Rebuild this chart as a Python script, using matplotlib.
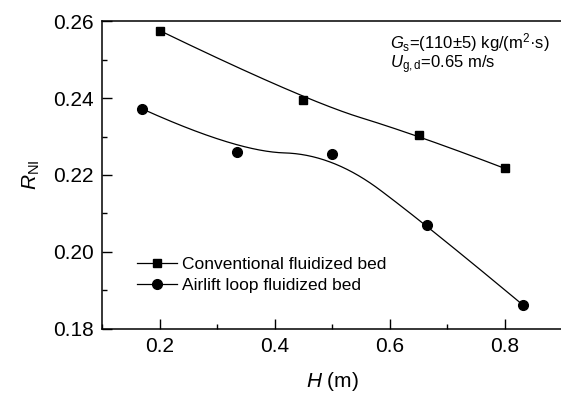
import numpy as np
import matplotlib
matplotlib.use("Agg")
import matplotlib.pyplot as plt
from matplotlib.ticker import MultipleLocator, FormatStrFormatter

# data
h_conv = [0.20, 0.45, 0.65, 0.80]
r_conv = [0.2576, 0.2395, 0.2303, 0.2217]
h_air = [0.17, 0.334, 0.50, 0.665, 0.831]
r_air = [0.2372, 0.2261, 0.2254, 0.2069, 0.1862]

lab_conv = "Conventional fluidized bed"
lab_air = "Airlift loop fluidized bed"


def bspline(x, y, k=2, num=300):
    # clamped B-spline with the data points as control points
    P = np.column_stack([x, y])
    n = len(P)
    knots = np.concatenate([np.zeros(k), np.linspace(0, 1, n - k + 1), np.ones(k)])
    t = np.linspace(0, 1, num)[:-1]
    N = np.zeros((len(t), len(knots) - 1))
    for i in range(len(knots) - 1):
        N[:, i] = (t >= knots[i]) & (t < knots[i + 1])
    for d in range(1, k + 1):
        Nn = np.zeros((len(t), len(knots) - 1 - d))
        for i in range(len(knots) - 1 - d):
            a = knots[i + d] - knots[i]
            c = knots[i + d + 1] - knots[i + 1]
            term = 0
            if a > 0:
                term = term + (t - knots[i]) / a * N[:, i]
            if c > 0:
                term = term + (knots[i + d + 1] - t) / c * N[:, i + 1]
            Nn[:, i] = term
        N = Nn
    C = N @ P
    C = np.vstack([C, P[-1]])
    return C[:, 0], C[:, 1]


plt.rcParams['font.family'] = ['Liberation Sans', 'DejaVu Sans']
plt.rcParams['mathtext.fontset'] = 'custom'
plt.rcParams['mathtext.rm'] = 'Liberation Sans'
plt.rcParams['mathtext.it'] = 'Liberation Sans:italic'

fig = plt.figure(figsize=(5.61, 3.95), dpi=100)
ax = fig.add_axes([102 / 561, 1 - 328.7 / 395, 460.5 / 561, 307.4 / 395])

xa, ya = bspline(h_conv, r_conv)
ax.plot(xa, ya, color='black', lw=0.9)
xb, yb = bspline(h_air, r_air)
ax.plot(xb, yb, color='black', lw=0.9)
ax.plot(h_conv, r_conv, ls='none', marker='s', ms=6.2, color='black')
ax.plot(h_air, r_air, ls='none', marker='o', ms=7, color='black')

# legend proxies (line + marker)
l1, = ax.plot([], [], color='black', lw=0.9, marker='s', ms=6.2)
l2, = ax.plot([], [], color='black', lw=0.9, marker='o', ms=7)
fig.legend([l1, l2], [lab_conv, lab_air], loc='upper left',
           bbox_to_anchor=(137 / 561, 1 - 257 / 395), frameon=False,
           fontsize=12.5, handlelength=2.3, handletextpad=0.3,
           labelspacing=0.35, borderpad=0, borderaxespad=0)

ax.set_xlim(0.1, 0.9)
ax.set_ylim(0.18, 0.26)
ax.xaxis.set_minor_locator(MultipleLocator(0.1))
ax.yaxis.set_major_locator(MultipleLocator(0.02))
ax.yaxis.set_minor_locator(MultipleLocator(0.01))
ax.xaxis.set_major_formatter(FormatStrFormatter('%.1f'))
ax.yaxis.set_major_formatter(FormatStrFormatter('%.2f'))
ax.set_xticks([0.2, 0.4, 0.6, 0.8])
ax.tick_params(which='both', direction='in', top=False, right=False,
               labelsize=15, width=1.0)
ax.tick_params(which='major', length=7, pad=6)
ax.tick_params(which='minor', length=3.5)
for s in ax.spines.values():
    s.set_linewidth(1.1)

ax.set_xlabel('$H$ (m)', fontsize=15)
ax.set_ylabel('$R_{\\mathrm{NI}}$', fontsize=15)
ax.xaxis.set_label_coords(0.5, -0.135)
ax.yaxis.set_label_coords(-0.13, 0.5)

note = '$G_{\\mathrm{s}}$=(110±5) kg/(m$^2$·s)\n$U_{\\mathrm{g,d}}$=0.65 m/s'
fig.text(390 / 561, 1 - 31 / 395, note, fontsize=12, va='top', ha='left',
         linespacing=0.95)

fig.savefig('out.png', dpi=100)
